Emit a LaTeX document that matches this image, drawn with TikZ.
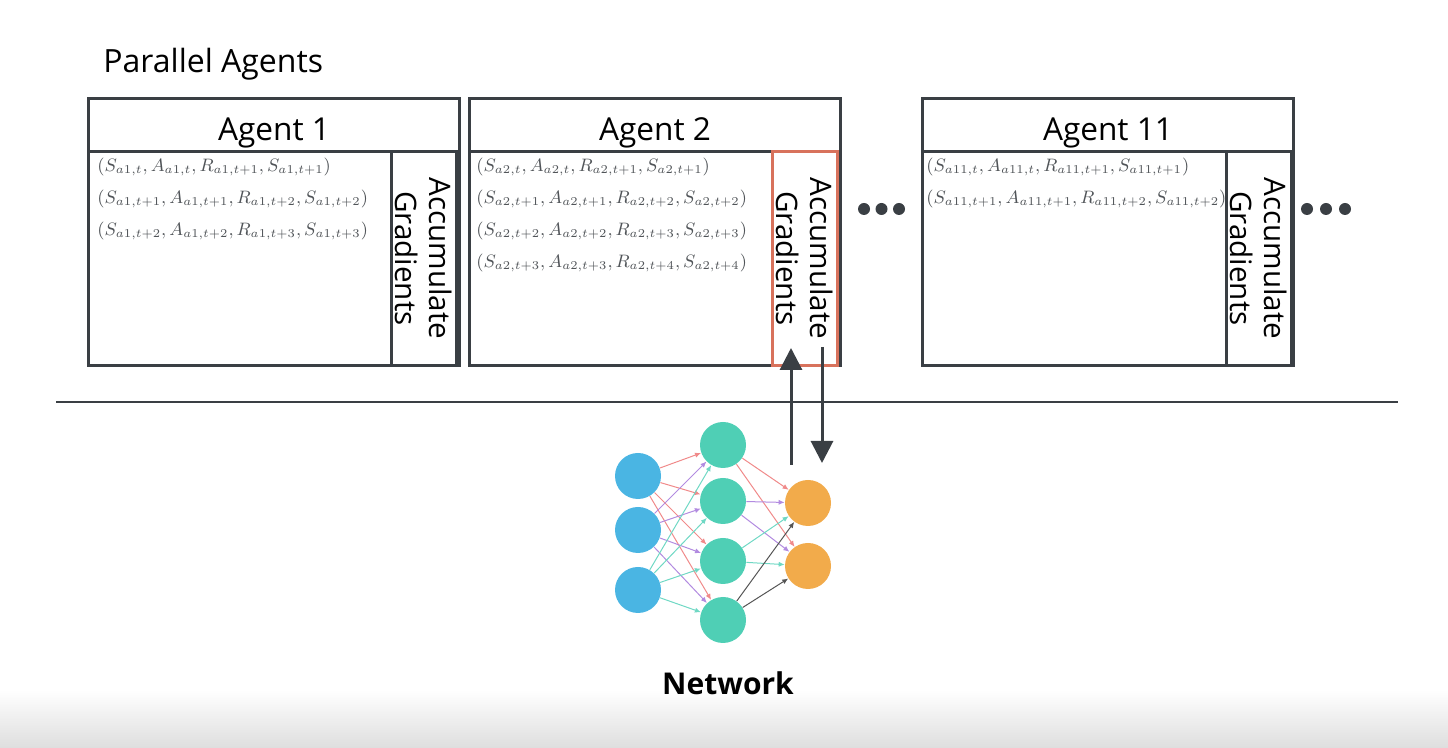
\documentclass[tikz,border=0pt]{standalone}
\usepackage{fontspec}
\setmainfont{Open Sans}
\usetikzlibrary{arrows.meta,positioning,calc}
\definecolor{frameline}{HTML}{3A3F44}
\definecolor{gradred}{HTML}{D8725C}
\definecolor{tuplegray}{HTML}{505458}
\definecolor{inblue}{HTML}{4AB5E3}
\definecolor{hidteal}{HTML}{4FCFB5}
\definecolor{outorange}{HTML}{F2AB4B}
\definecolor{wirered}{HTML}{F08A8A}
\definecolor{wirepurple}{HTML}{B28BE0}
\definecolor{wireteal}{HTML}{6FD8C4}
\definecolor{wiregray}{HTML}{555555}
\tikzset{
  agenttitle/.style={draw=frameline, line width=1.5pt, minimum width=185.5pt, minimum height=26.5pt, inner sep=0pt, text height=15.8pt, text depth=0pt, anchor=north west, font=\fontsize{15.8}{18}\selectfont},
  agentbody/.style={draw=frameline, line width=1.5pt, minimum width=185.5pt, minimum height=107pt, inner sep=0pt, anchor=north west},
  gradcol/.style={draw=frameline, line width=1.5pt, minimum width=32.5pt, minimum height=107pt, inner sep=0pt, anchor=north east},
  gradtext/.style={rotate=-90, align=center, inner sep=0pt, font=\fontsize{14.8}{17}\selectfont},
  tuples/.style={anchor=north west, align=left, inner sep=0pt, text=tuplegray, font=\fontsize{9.1}{16}\selectfont},
  inunit/.style={circle, fill=inblue, minimum size=23pt, inner sep=0pt},
  hidunit/.style={circle, fill=hidteal, minimum size=23pt, inner sep=0pt},
  outunit/.style={circle, fill=outorange, minimum size=23pt, inner sep=0pt},
  wire/.style={-{Latex[length=3pt,width=2.6pt]}, line width=0.5pt},
  syncarrow/.style={-{Triangle[width=11pt,length=11pt]}, line width=1.5pt, draw=frameline},
  dotmark/.style={fill=frameline}
}
\begin{document}
\begin{tikzpicture}[x=0.5pt, y=-0.5pt]
  \useasboundingbox (0,0) rectangle (1448,748);
  \shade[top color=white, bottom color=black!13] (0,690) rectangle (1448,748);

  \node[anchor=base west, inner sep=0pt, font=\fontsize{16}{18}\selectfont] (heading) at (103,73) {Parallel Agents};

  % agent 1
  \node[agenttitle] (title1) at (87,97) {Agent 1};
  \node[agentbody] (body1) at (87,150) {};
  \node[gradcol] (grad1) at (458,150) {};
  \node[gradtext] at (grad1.center) {Accumulate\\Gradients};
  \node[tuples] (tup1) at (97,158) {$(S_{a1,t}, A_{a1,t}, R_{a1,t+1}, S_{a1,t+1})$\\
    $(S_{a1,t+1}, A_{a1,t+1}, R_{a1,t+2}, S_{a1,t+2})$\\
    $(S_{a1,t+2}, A_{a1,t+2}, R_{a1,t+3}, S_{a1,t+3})$};

  % agent 2
  \node[agenttitle] (title2) at (468,97) {Agent 2};
  \node[agentbody] (body2) at (468,150) {};
  \node[gradcol, draw=gradred] (grad2) at (839,150) {};
  \node[gradtext] at (grad2.center) {Accumulate\\Gradients};
  \node[tuples] (tup2) at (476,158) {$(S_{a2,t}, A_{a2,t}, R_{a2,t+1}, S_{a2,t+1})$\\
    $(S_{a2,t+1}, A_{a2,t+1}, R_{a2,t+2}, S_{a2,t+2})$\\
    $(S_{a2,t+2}, A_{a2,t+2}, R_{a2,t+3}, S_{a2,t+3})$\\
    $(S_{a2,t+3}, A_{a2,t+3}, R_{a2,t+4}, S_{a2,t+4})$};

  % agent 11
  \node[agenttitle] (title11) at (921,97) {Agent 11};
  \node[agentbody] (body11) at (921,150) {};
  \node[gradcol] (grad11) at (1293,150) {};
  \node[gradtext] at (grad11.center) {Accumulate\\Gradients};
  \node[tuples] (tup11) at (926,158) {$(S_{a11,t}, A_{a11,t}, R_{a11,t+1}, S_{a11,t+1})$\\
    $(S_{a11,t+1}, A_{a11,t+1}, R_{a11,t+2}, S_{a11,t+2})$};

  \foreach \x in {864,881.5,899,1307,1326,1345}
    \fill[dotmark] (\x,209) circle (3pt);

  \draw[frameline, line width=1pt] (56,402) -- (1398,402);

  % network
  \foreach \i/\y in {1/476,2/530,3/590}
    \node[inunit] (in\i) at (638,\y) {};
  \foreach \j/\y in {1/445,2/501,3/561,4/620}
    \node[hidunit] (hid\j) at (723,\y) {};
  \foreach \k/\y in {1/503,2/566}
    \node[outunit] (out\k) at (808,\y) {};
  \foreach \i/\c in {1/wirered,2/wirepurple,3/wireteal}
    \foreach \j in {1,...,4}
      \draw[wire, \c] (in\i) -- (hid\j);
  \foreach \j/\c in {1/wirered,2/wirepurple,3/wireteal,4/wiregray}
    \foreach \k in {1,2}
      \draw[wire, \c] (hid\j) -- (out\k);
  \node[font=\fontsize{15}{18}\selectfont\bfseries] (netlabel) at (728,683) {Network};

  \coordinate (upfoot) at (791,465);
  \coordinate (uptip) at (791,348);
  \coordinate (downfoot) at (822,347);
  \coordinate (downtip) at (822,463);
  \draw[syncarrow] (upfoot) -- (uptip);
  \draw[syncarrow] (downfoot) -- (downtip);
\end{tikzpicture}
\end{document}
